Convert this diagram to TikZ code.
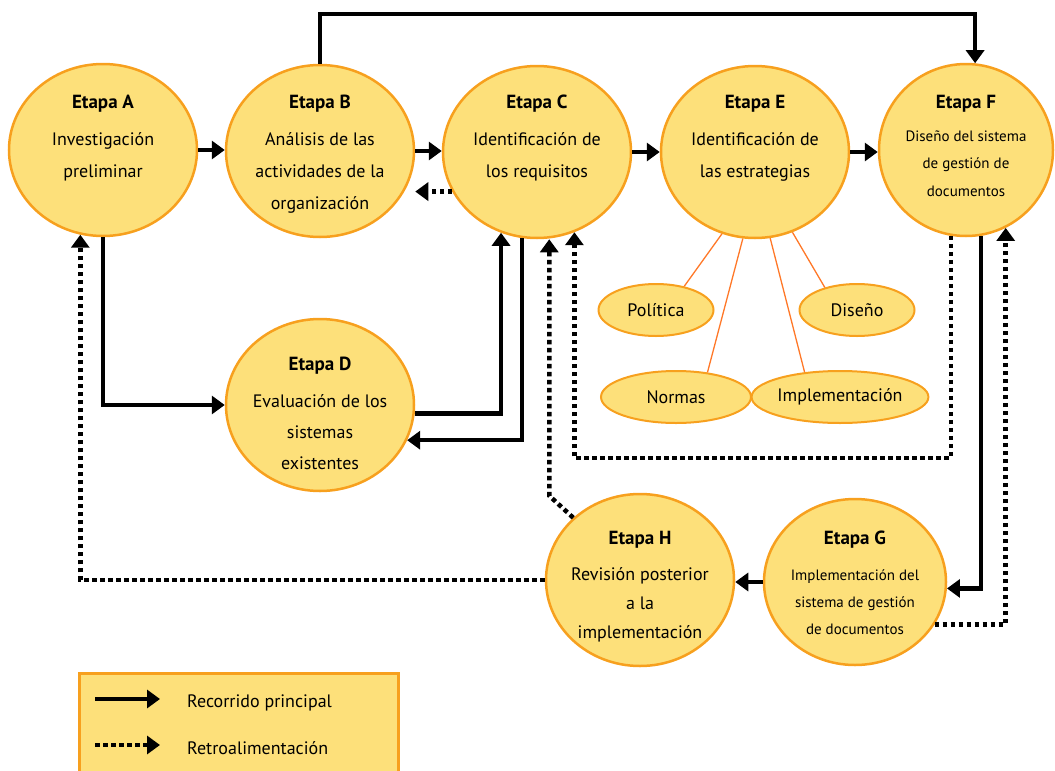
\documentclass[tikz,border=0pt]{standalone}
\usepackage{fontspec}
\setmainfont{PT Sans}
\usetikzlibrary{arrows.meta,shapes.geometric}
\definecolor{stagefill}{RGB}{253,224,122}
\definecolor{stageline}{RGB}{247,160,30}
\definecolor{linkline}{RGB}{255,120,40}
\begin{document}
\begin{tikzpicture}[x=1pt,y=-1pt,
    stage/.style={ellipse,draw=stageline,line width=2.5pt,fill=stagefill,
      minimum width=188pt,minimum height=172pt,inner sep=0pt},
    part/.style={ellipse,draw=stageline,line width=2pt,fill=stagefill,
      minimum height=52pt,inner sep=0pt,font=\fontsize{18}{20}\selectfont},
    title/.style={anchor=base,inner sep=0pt,font=\fontsize{19}{20}\selectfont\bfseries},
    body/.style={anchor=base,align=center,inner sep=0pt,font=\fontsize{18}{32}\selectfont},
    small/.style={anchor=base,align=center,inner sep=0pt,font=\fontsize{15}{27.5}\selectfont},
    main/.style={line width=4.5pt,-{Triangle[length=13pt,width=18pt]}},
    feed/.style={line width=4.5pt,dash pattern=on 4.5pt off 3.5pt,-{Triangle[length=13pt,width=18pt]}},
    link/.style={draw=linkline,line width=1.3pt}]
  \useasboundingbox (0,0) rectangle (1055,771);
  % stages
  \node[stage] (a) at (103,150) {};
  \node[stage] (b) at (320,151) {};
  \node[stage] (c) at (537,152) {};
  \node[stage] (e) at (755,152) {};
  \node[stage,minimum width=174pt] (f) at (966,150) {};
  \node[stage] (d) at (320,405) {};
  \node[stage] (h) at (640,580) {};
  \node[stage,minimum width=182pt,minimum height=166pt] (g) at (855,582) {};
  % texts (base = last line)
  \node[title] (a-t) at (103,108) {Etapa A};
  \node[body] (a-b) at (103,177) {Investigación\\preliminar};
  \node[title] (b-t) at (320,108) {Etapa B};
  \node[body] (b-b) at (320,209) {Análisis de las\\actividades de la\\organización};
  \node[title] (c-t) at (537,108) {Etapa C};
  \node[body] (c-b) at (537,177) {Identificación de\\los requisitos};
  \node[title] (e-t) at (755,108) {Etapa E};
  \node[body] (e-b) at (755,177) {Identificación de\\las estrategias};
  \node[title] (f-t) at (966,108) {Etapa F};
  \node[small] (f-b) at (966,196) {Diseño del sistema\\de gestión de\\documentos};
  \node[title] (d-t) at (320,370) {Etapa D};
  \node[body,font=\fontsize{18}{31}\selectfont] (d-b) at (320,469) {Evaluación de los\\sistemas\\existentes};
  \node[title] (h-t) at (640,544) {Etapa H};
  \node[body,font=\fontsize{18}{29}\selectfont] (h-b) at (640,638) {Revisión posterior\\a la\\implementación};
  \node[title] (g-t) at (855,544) {Etapa G};
  \node[small,font=\fontsize{15}{27}\selectfont] (g-b) at (855,634) {Implementación del\\sistema de gestión\\de documentos};
  % strategies
  \node[part,minimum width=115pt] (pol) at (656,310) {Política};
  \node[part,minimum width=115pt] (dis) at (857,310) {Diseño};
  \node[part,minimum width=150pt] (nor) at (676,397) {Normas};
  \node[part,minimum width=150pt] (imp) at (840,397) {Implementación};
  \begin{scope}[link]
    \draw (e.248) to (pol.40);
    \draw (e.262) to (nor.38);
    \draw (e.280) to (imp.145);
    \draw (e.295) to (dis.145);
  \end{scope}
  % main path
  \draw[main] (a.east) -- (a.east -| b.west);
  \draw[main] (b.east) -- (b.east -| c.west);
  \draw[main] (c.east) -- (c.east -| e.west);
  \draw[main] (e.east) -- (e.east -| f.west);
  \draw[main,line width=4pt] (b.north) -- ++(0,-50) -| (f.84);
  \draw[main] (a.south) |- (d.west);
  \draw[main] (d.355) -| (c.246);
  \draw[main] (c.260) |- (d.338);
  \draw[main] (f.280) |- (g.356);
  \draw[main] (g.west) -- (g.west -| h.east);
  % feedback
  \draw[feed] (c.205) -- (c.205 -| b.east);
  \draw[feed] (h.137) -- ++(-24,-22) coordinate (hbend) -- (hbend |- c.south);
  \draw[feed] (f.260) -- ++(0,222) -| (c.295);
  \draw[feed] (g.332) -| (f.297);
  \draw[feed] (h.west) -| (a.255);
  % legend
  \node[draw=stageline,line width=3pt,fill=stagefill,anchor=north west,
    minimum width=319pt,minimum height=120pt] (legend) at (78,672) {};
  \coordinate (k1) at (95,699);
  \coordinate (k2) at (160,699);
  \coordinate (k3) at (95,745);
  \coordinate (k4) at (160,745);
  \draw[main] (k1) -- (k2);
  \draw[feed] (k3) -- (k4);
  \node[anchor=base west,inner sep=0pt,font=\fontsize{18}{20}\selectfont] (key1) at (187,707) {Recorrido principal};
  \node[anchor=base west,inner sep=0pt,font=\fontsize{18}{20}\selectfont] (key2) at (187,754) {Retroalimentación};
\end{tikzpicture}
\end{document}
